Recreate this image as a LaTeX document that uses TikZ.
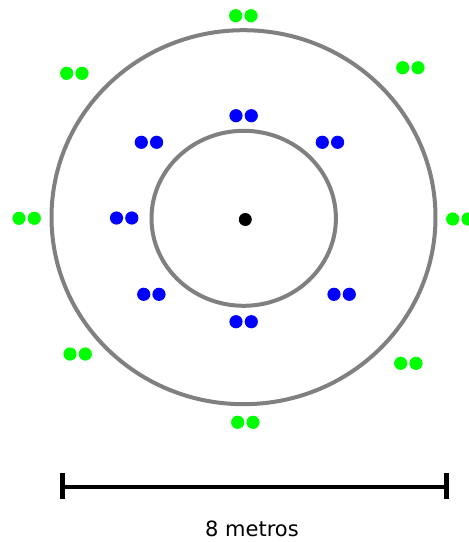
\documentclass[tikz,border=0pt]{standalone}
\usepackage{fontspec}
\setmainfont{DejaVu Sans}
\definecolor{ringgray}{RGB}{128,128,128}
\definecolor{dotgreen}{RGB}{0,255,0}
\definecolor{dotblue}{RGB}{0,0,255}
\begin{document}
\begin{tikzpicture}[x=1pt,y=-1pt,
  ring/.style={draw=ringgray,line width=4pt},
  gdot/.style={fill=dotgreen},
  bdot/.style={fill=dotblue},
  bar/.style={line width=4pt,draw=black},
  tick/.style={line width=5pt,draw=black}]
\useasboundingbox (0,0) rectangle (469,542);
\fill[white] (0,0) rectangle (469,542);
% rings
\draw[ring] (243.5,217.2) ellipse [x radius=192, y radius=187];
\draw[ring] (243.7,218.3) ellipse [x radius=92.2, y radius=87.5];
% centre
\fill[black] (245.3,219.5) circle[radius=6.5];
% green pairs
\foreach \x/\y in {235.7/15.7, 66.7/73.3, 402.7/67.7, 19/218.3, 452.7/219, 70/354, 400.7/363.3, 237.7/422.3}{
  \fill[gdot] (\x,\y) circle[radius=6.6];
  \fill[gdot] (\x+15.3,\y) circle[radius=6.6];
}
% blue pairs
\foreach \x/\y in {236/115.7, 141.3/142.3, 322.3/142.3, 116.5/218, 143.7/294.3, 334/294.3, 236/321.7}{
  \fill[bdot] (\x,\y) circle[radius=6.6];
  \fill[bdot] (\x+15.3,\y) circle[radius=6.6];
}
% scale bar
\coordinate (barL) at (62.3,487.3);
\coordinate (barR) at (446.7,487.3);
\draw[bar] (barL) -- (barR);
\draw[tick] ([yshift=-11.5pt]barL) -- ([yshift=14.5pt]barL);
\draw[tick] ([yshift=-11.5pt]barR) -- ([yshift=14.5pt]barR);
\node[inner sep=0pt,font=\fontsize{21}{24}\selectfont] (label) at (252,529) {8 metros};
\end{tikzpicture}
\end{document}
